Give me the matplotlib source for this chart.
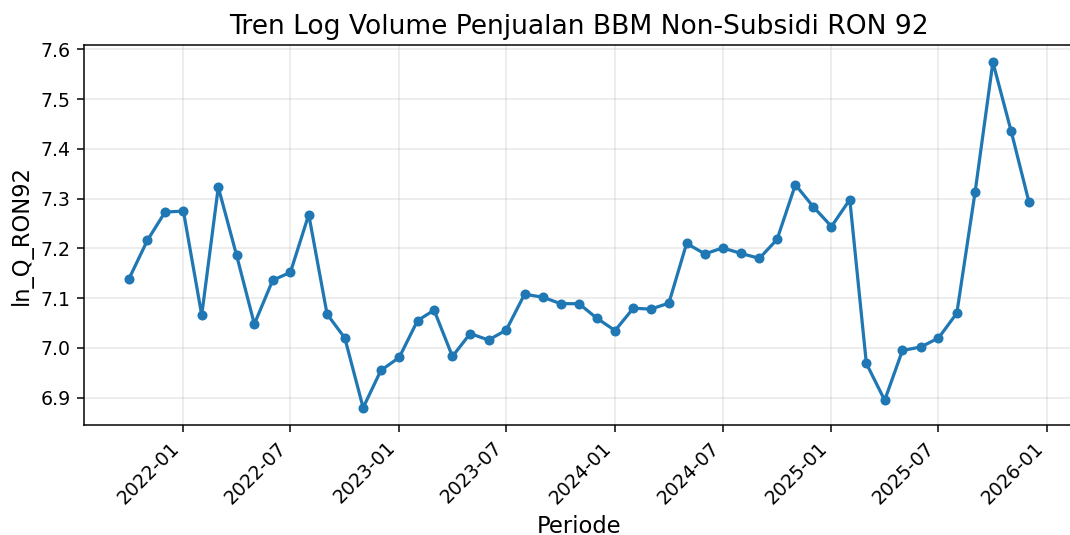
import matplotlib
matplotlib.use("Agg")
import matplotlib.pyplot as plt
import matplotlib.dates as mdates
import pandas as pd

# monthly log volume, Oct 2021 - Dec 2025
periode = pd.date_range("2021-10-01", periods=51, freq="MS")
ln_q_ron92 = [
    7.139, 7.216, 7.273, 7.275, 7.066, 7.323, 7.186, 7.048, 7.136, 7.152,
    7.268, 7.068, 7.020, 6.880, 6.955, 6.981, 7.055, 7.076, 6.983, 7.029,
    7.016, 7.036, 7.108, 7.102, 7.089, 7.089, 7.060, 7.035, 7.080, 7.078,
    7.090, 7.210, 7.189, 7.201, 7.190, 7.180, 7.218, 7.328, 7.284, 7.244,
    7.298, 6.969, 6.895, 6.995, 7.002, 7.020, 7.070, 7.314, 7.574, 7.435,
    7.293,
]

fig, ax = plt.subplots(figsize=(1070 / 136, 535 / 136), dpi=136)
ax.plot(periode, ln_q_ron92, marker="o", markersize=4.3, linewidth=1.7, color="#1f77b4")  # line with dots
ax.set_title("Tren Log Volume Penjualan BBM Non-Subsidi RON 92", fontsize=14)
ax.set_xlabel("Periode", fontsize=12)
ax.set_ylabel("ln_Q_RON92", fontsize=12)
ax.grid(True, alpha=0.3)
ax.xaxis.set_major_locator(mdates.MonthLocator(bymonth=[1, 7]))
ax.xaxis.set_major_formatter(mdates.DateFormatter("%Y-%m"))
plt.setp(ax.get_xticklabels(), rotation=45, ha="right")
# the right edge of the axes runs just past the picture, as in the original crop
fig.subplots_adjust(left=0.0785, right=1.0037, bottom=0.2056, top=0.916)
fig.savefig("out.png", dpi=136)
